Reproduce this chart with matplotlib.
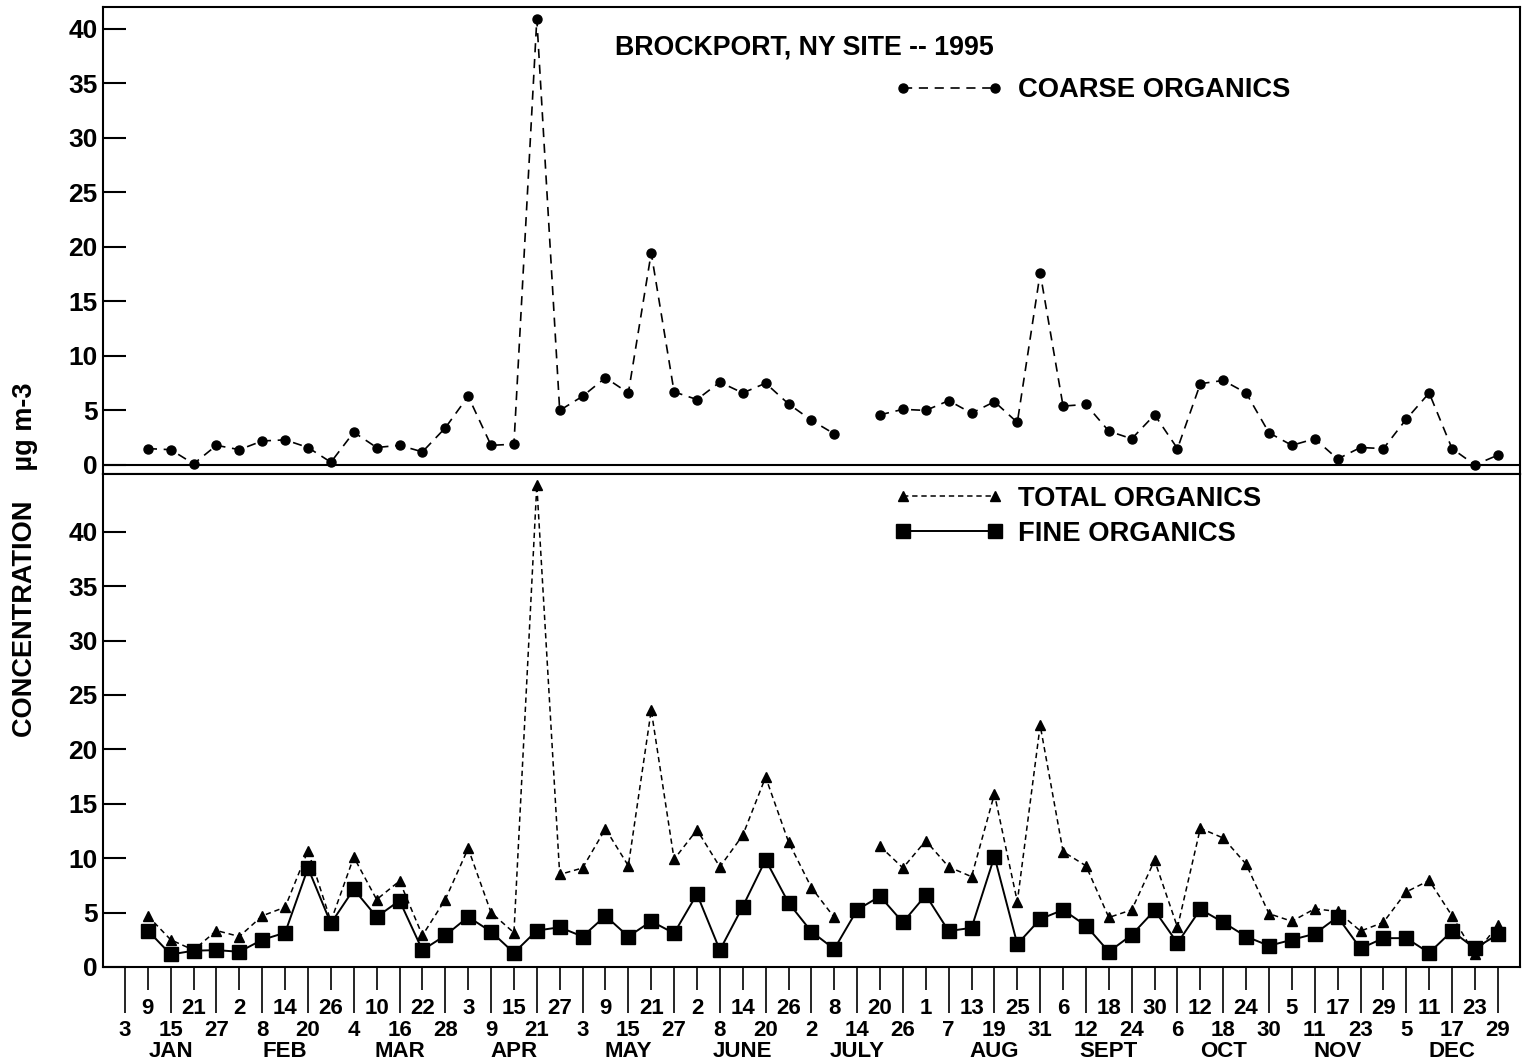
import numpy as np
import pandas as pd
import matplotlib
matplotlib.use('Agg')
import matplotlib.pyplot as plt

plt.rcParams['font.family'] = ['Liberation Sans', 'DejaVu Sans']
plt.rcParams['font.weight'] = 'bold'

# sampling schedule: every 6th day through 1995
dates = pd.date_range('1995-01-03', '1995-12-29', freq='6D')
months = ['JAN', 'FEB', 'MAR', 'APR', 'MAY', 'JUNE', 'JULY', 'AUG', 'SEPT', 'OCT', 'NOV', 'DEC']
nan = np.nan

# concentrations, ug m-3
coarse = [nan, 1.5, 1.4, 0.1, 1.8, 1.4, 2.2, 2.3, 1.6, 0.25, 3.0, 1.6, 1.8, 1.2, 3.4, 6.3, 1.8, 1.9,
          40.9, 5.0, 6.3, 8.0, 6.6, 19.45, 6.7, 6.0, 7.6, 6.6, 7.5, 5.6, 4.1, 2.85,
          nan, 4.6, 5.1, 5.0, 5.9, 4.75, 5.8, 3.9, 17.6, 5.4, 5.55, 3.1, 2.4, 4.6, 1.5, 7.45, 7.75, 6.6,
          2.95, 1.8, 2.4, 0.55, 1.6, 1.5, 4.2, 6.6, 1.5, 0.0, 0.9]
total = [nan, 4.7, 2.5, 1.55, 3.35, 2.8, 4.7, 5.5, 10.7, 4.2, 10.1, 6.2, 7.9, 2.9, 6.2, 10.9, 5.0, 3.15,
         44.3, 8.5, 9.1, 12.7, 9.3, 23.6, 9.9, 12.6, 9.2, 12.1, 17.45, 11.5, 7.3, 4.55,
         nan, 11.1, 9.1, 11.6, 9.2, 8.3, 15.9, 6.0, 22.2, 10.6, 9.3, 4.55, 5.25, 9.8, 3.65, 12.75, 11.85, 9.45,
         4.9, 4.2, 5.35, 5.1, 3.3, 4.1, 6.9, 7.95, 4.7, 1.15, 3.85]
fine = [nan, 3.35, 1.15, 1.5, 1.55, 1.4, 2.5, 3.15, 9.1, 4.0, 7.15, 4.6, 6.1, 1.55, 2.9, 4.6, 3.25, 1.3,
        3.35, 3.65, 2.8, 4.7, 2.8, 4.2, 3.1, 6.7, 1.55, 5.55, 9.85, 5.9, 3.25, 1.65,
        5.25, 6.5, 4.1, 6.6, 3.3, 3.6, 10.15, 2.1, 4.4, 5.25, 3.8, 1.4, 2.95, 5.2, 2.2, 5.3, 4.1, 2.8,
        1.95, 2.5, 3.05, 4.6, 1.7, 2.65, 2.65, 1.3, 3.3, 1.7, 3.0]

x = np.arange(len(dates))
days = [str(d.day) for d in dates]

fig = plt.figure(figsize=(15.22, 10.62), dpi=100)
ax1 = fig.add_axes([103/1522, 1-474/1062, 1417/1522, 467/1062])
ax2 = fig.add_axes([103/1522, 1-967/1062, 1417/1522, 493/1062])

#Top panel: coarse
ax1.plot(x, coarse, color='k', lw=1.2, ls=(0, (5.5, 4)), marker='o', ms=6.5, label='COARSE ORGANICS')
ax1.axhline(0, color='k', lw=1.5)
ax1.set_ylim(-0.83, 42.0)
ax1.set_yticks(range(0, 41, 5))
ax1.text(0.361, 0.914, 'BROCKPORT, NY SITE -- 1995', transform=ax1.transAxes,
         fontsize=19.3, ha='left', va='center')
ax1.legend(loc='center left', bbox_to_anchor=(0.559, 0.822), frameon=False, fontsize=19.7,
           numpoints=2, handlelength=3.95, handletextpad=0.55, borderpad=0, borderaxespad=0)

#Bottom panel: total and fine
ax2.plot(x, total, color='k', lw=1.1, ls=(0, (3.5, 2.5)), marker='^', ms=6.5, label='TOTAL ORGANICS')
ax2.plot(x, fine, color='k', lw=1.4, ls='-', marker='s', ms=9.5, label='FINE ORGANICS')
ax2.set_ylim(0, 45.3)
ax2.set_yticks(range(0, 41, 5))
ax2.legend(loc='center left', bbox_to_anchor=(0.559, 0.914), frameon=False, fontsize=19.7,
           numpoints=2, handlelength=3.95, handletextpad=0.55, borderpad=0, borderaxespad=0,
           labelspacing=0.32)

for ax in (ax1, ax2):
    ax.set_xlim(-0.96, 60.97)
    ax.tick_params(axis='y', direction='in', length=16.5, width=1.5, labelsize=19, pad=4)
    for s in ax.spines.values():
        s.set_linewidth(1.5)

ax1.tick_params(axis='x', bottom=False, labelbottom=False)

ax2.set_xticks(x[::2])
ax2.set_xticklabels(days[::2])
ax2.set_xticks(x[1::2], minor=True)
ax2.set_xticklabels(days[1::2], minor=True)
ax2.tick_params(axis='x', which='major', direction='out', length=33, width=1.2, pad=5, labelsize=16)
ax2.tick_params(axis='x', which='minor', direction='out', length=16.5, width=1.2, pad=6, labelsize=16)

# month names under the middle sample of each month
for m in range(12):
    idx = np.where(dates.month == m + 1)[0]
    ax2.text(idx[len(idx) // 2], -0.172, months[m], transform=ax2.get_xaxis_transform(),
             ha='center', va='center', fontsize=16)

fig.text(25/1522, 1-560/1062, 'CONCENTRATION    \u00b5g m-3', rotation=90,
         ha='center', va='center', fontsize=19.5)

plt.savefig('out.png', dpi=100)
